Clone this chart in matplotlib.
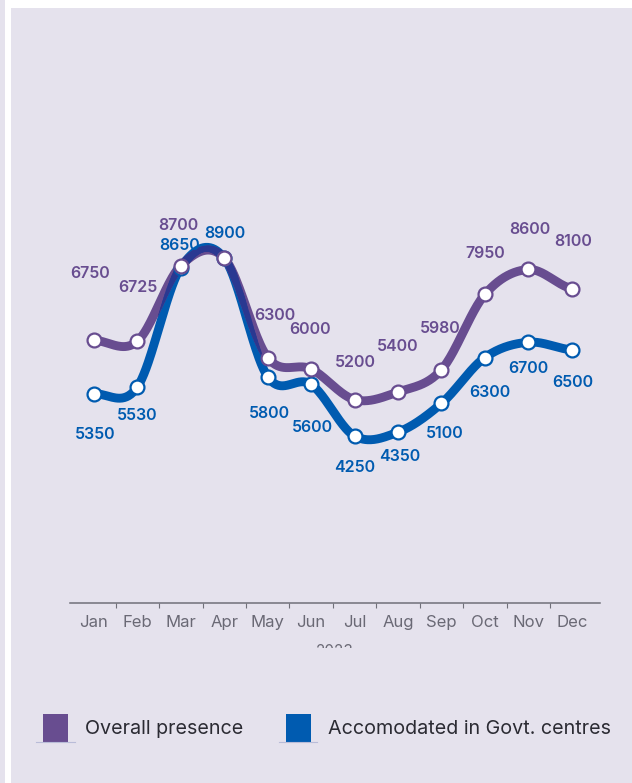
import numpy as np
import matplotlib
matplotlib.use("Agg")
import matplotlib.pyplot as plt
from matplotlib.patches import Rectangle
from matplotlib.collections import LineCollection
from matplotlib.lines import Line2D
from matplotlib.transforms import Bbox, TransformedBbox

# ---------------- data ----------------
months = ["Jan", "Feb", "Mar", "Apr", "May", "Jun", "Jul", "Aug", "Sep", "Oct", "Nov", "Dec"]
overall = [6750, 6725, 8700, 8900, 6300, 6000, 5200, 5400, 5980, 7950, 8600, 8100]
govt = [5350, 5530, 8650, 8900, 5800, 5600, 4250, 4350, 5100, 6300, 6700, 6500]
series_names = ["Overall presence", "Accomodated in Govt. centres"]
year_label = "2023"

# label offsets (pixels, dx right, dy down) relative to the point; None = label hidden
overall_off = [(-4, -67), (1, -54), (-2, -40), None, (7, -42), (-1, -40),
               (1, -37), (0, -45), (-1, -41), (0, -41), (2, -40), (1, -47)]
govt_off = [(1, 41), (0, 28), (-1, -22), (1, -25), (2, 37), (1, 43),
            (0, 31), (2, 24), (3, 30), (5, 35), (0, 26), (1, 33)]

# ---------------- style ----------------
W, H, DPI = 632, 783, 100
BG = "#e5e2ed"
PURPLE = "#684d90"
BLUE = "#005bb0"
NAVY = "#2a3891"
GREY = "#6a6975"
FONT = ["Inter", "DejaVu Sans"]
plt.rcParams["font.family"] = FONT

fig = plt.figure(figsize=(W / DPI, H / DPI), dpi=DPI, facecolor="white")


def fx(px):
    return px / W


def fy(py):
    return 1 - py / H


# panel backgrounds
fig.add_artist(Rectangle((0, 0), fx(5), 1, transform=fig.transFigure, color=BG, lw=0, zorder=0))
fig.add_artist(Rectangle((fx(11), 0), 1 - fx(11), fy(8), transform=fig.transFigure,
                         color=BG, lw=0, zorder=0))

# axes
y0_px, ppu = 598.7, 0.03828
ymax = 15000
ax = fig.add_axes([fx(70), fy(y0_px), fx(600) - fx(70), ymax * ppu / H])
ax.set_facecolor("none")
ax.set_xlim(-0.55, 11.65)
ax.set_ylim(0, ymax)
for s in ["top", "right", "left"]:
    ax.spines[s].set_visible(False)
ax.spines["bottom"].set_position(("outward", 4 * 72 / DPI))
ax.spines["bottom"].set_color("#707079")
ax.spines["bottom"].set_linewidth(1.1)
ax.set_yticks([])
x = np.arange(len(months))
ax.set_xticks(x)
ax.set_xticklabels(months)
for lab in ax.get_xticklabels():
    lab.set_x(lab.get_position()[0])
ax.set_xticks(x[:-1] + 0.5, minor=True)
ax.tick_params(axis="x", which="major", length=0, pad=8.5, labelsize=12, labelcolor=GREY)
ax.tick_params(axis="x", which="minor", length=3.6, width=0.8, color="#707079")


def catmull(xv, yv, n=40):
    xv = np.asarray(xv, float)
    yv = np.asarray(yv, float)
    xs, ys = [], []
    N = len(yv)
    for i in range(N - 1):
        p0 = yv[max(i - 1, 0)]
        p1 = yv[i]
        p2 = yv[i + 1]
        p3 = yv[min(i + 2, N - 1)]
        m1 = (p2 - p0) / 2
        m2 = (p3 - p1) / 2
        t = np.linspace(0, 1, n, endpoint=(i == N - 2))
        h00 = 2 * t**3 - 3 * t**2 + 1
        h10 = t**3 - 2 * t**2 + t
        h01 = -2 * t**3 + 3 * t**2
        h11 = t**3 - t**2
        ys.append(h00 * p1 + h10 * m1 + h01 * p2 + h11 * m2)
        xs.append(xv[i] + t * (xv[i + 1] - xv[i]))
    return np.concatenate(xs), np.concatenate(ys)


LW = 6.4
xp, yp = catmull(x, overall)
xb, yb = catmull(x, govt)
ax.plot(xb, yb, color=BLUE, lw=LW, solid_capstyle="round", zorder=2)
ax.plot(xp, yp, color=PURPLE, lw=LW, solid_capstyle="round", zorder=3)

# overlap of the two strokes (drawn darker, as in the reference)
T = ax.transData
P = T.transform(np.column_stack([xp, yp]))
B = T.transform(np.column_stack([xb, yb]))
wpx = LW * DPI / 72
d = np.sqrt(((P[:, None, :] - B[None, :, :]) ** 2).sum(-1))
j = d.argmin(1)
dmin = d[np.arange(len(P)), j]
wo = wpx - dmin
C = (P + B[j]) / 2
Cd = T.inverted().transform(C)
segs, lws = [], []
for i in range(len(P) - 1):
    if wo[i] > 0 and wo[i + 1] > 0:
        segs.append([Cd[i], Cd[i + 1]])
        lws.append((wo[i] + wo[i + 1]) / 2 * 72 / DPI)
if segs:
    ax.add_collection(LineCollection(segs, colors=NAVY, linewidths=lws,
                                     capstyle="round", zorder=4))

ax.plot(x, govt, ls="none", marker="o", ms=10, mfc="white", mec=BLUE, mew=1.6, zorder=5)
ax.plot(x, overall, ls="none", marker="o", ms=10, mfc="white", mec=PURPLE, mew=1.6, zorder=6)

for vals, offs, col, z in [(overall, overall_off, PURPLE, 7), (govt, govt_off, BLUE, 8)]:
    for i, (v, off) in enumerate(zip(vals, offs)):
        if off is None:
            continue
        dx, dy = off
        ax.annotate(f"{v}", xy=(x[i], v), xytext=(dx * 72 / DPI, -dy * 72 / DPI),
                    textcoords="offset points", ha="center", va="center",
                    fontsize=11.5, fontweight="semibold", color=col, zorder=z,
                    annotation_clip=False)

# x-axis title, cut off as in the reference
t = fig.text(fx(335), fy(644.5), year_label, ha="center", va="top", fontsize=11, color=GREY)
t.set_clip_box(TransformedBbox(Bbox([[0, fy(648)], [1, 1]]), fig.transFigure))
t.set_clip_on(True)

# legend
for (name, col, sx, tx, lx0, lx1) in [(series_names[0], PURPLE, 43, 85, 36, 75),
                                      (series_names[1], BLUE, 286, 328, 279, 317)]:
    fig.add_artist(Line2D([fx(lx0), fx(lx1)], [fy(742), fy(742)], transform=fig.transFigure,
                          color="#b9bcd8", lw=0.8))
    fig.add_artist(Rectangle((fx(sx), fy(742)), fx(25), 28 / H, transform=fig.transFigure,
                             color=col, lw=0))
    fig.text(fx(tx), fy(729), name, ha="left", va="center", fontsize=14.2, color="#2b2b33")

fig.savefig("out.png", dpi=DPI, facecolor="white")
